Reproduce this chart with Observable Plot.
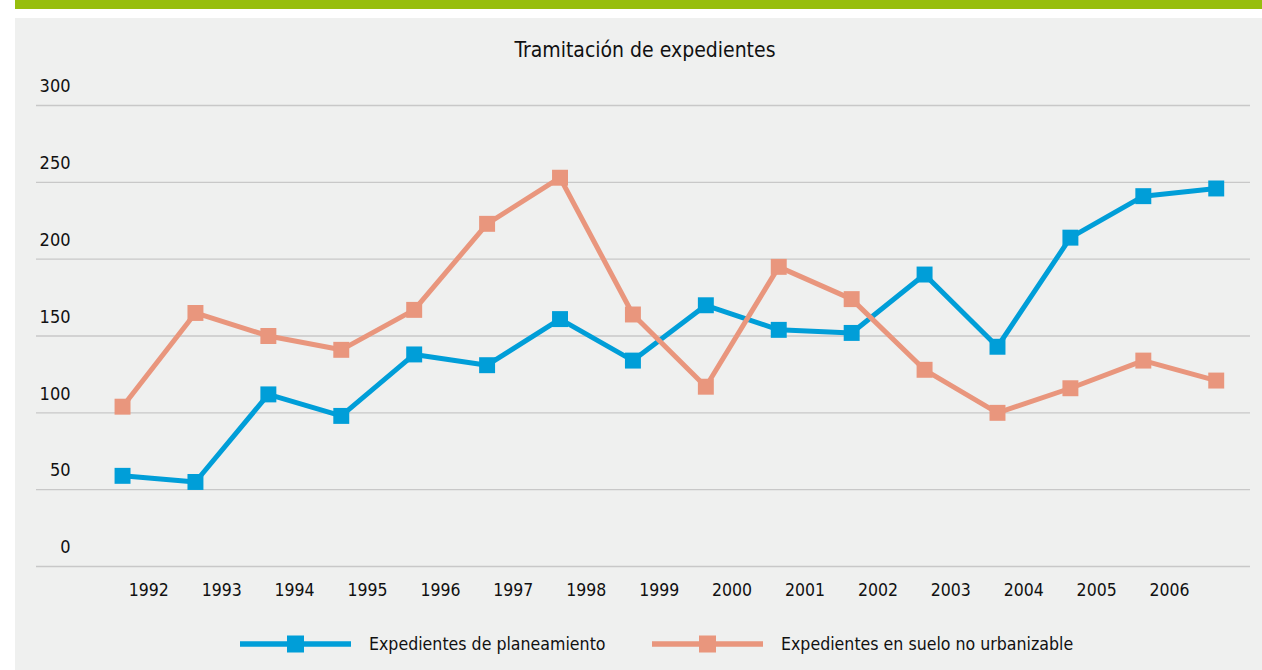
<!DOCTYPE html>
<html>
<head>
<meta charset="utf-8">
<script src="https://cdn.jsdelivr.net/npm/d3@7"></script>
<script src="https://cdn.jsdelivr.net/npm/@observablehq/plot@0.6"></script>
<style>
  html, body { margin: 0; padding: 0; background: #ffffff; }
  body { width: 1262px; height: 670px; position: relative; overflow: hidden;
         font-family: "DejaVu Sans Condensed", "Liberation Sans", sans-serif; color: #111; }
  #topbar { position: absolute; left: 15px; top: 0; width: 1247px; height: 9px; background: #97be0d; }
  #panel { position: absolute; left: 15px; top: 18px; width: 1247px; height: 652px; background: #eff0ef; }
  #title { position: absolute; left: 0; width: 1290px; top: 38px; text-align: center; font-size: 21px; }
  #chart { position: absolute; left: 0; top: 50px; }
  .leg { position: absolute; top: 631px; height: 26px; display: flex; align-items: center; font-size: 17.6px; }
  .leg svg { margin-right: 18px; }
</style>
</head>
<body>
<div id="topbar"></div>
<div id="panel"></div>
<div id="title">Tramitación de expedientes</div>
<div id="chart"></div>
<div class="leg" id="leg1" style="left:240px"></div>
<div class="leg" id="leg2" style="left:652px"></div>
<script>
const years = ["1992","1993","1994","1995","1996","1997","1998","1999","2000","2001","2002","2003","2004","2005","2006"];
const planeamiento = [59, 55, 112, 98, 138, 131, 161, 134, 170, 154, 152, 190, 143, 214, 241, 246];
const sueloNoUrbanizable = [104, 165, 150, 141, 167, 223, 253, 164, 117, 195, 174, 128, 100, 116, 134, 121];
const yTicks = [0, 50, 100, 150, 200, 250, 300];
const seriesNames = ["Expedientes de planeamiento", "Expedientes en suelo no urbanizable"];
const colors = ["#009ed8", "#e9967d"];

const rows = [];
planeamiento.forEach((v, i) => rows.push({i, value: v, serie: seriesNames[0]}));
sueloNoUrbanizable.forEach((v, i) => rows.push({i, value: v, serie: seriesNames[1]}));

const labelOffset = 0.36;
const tickPositions = years.map((y, k) => k + labelOffset);

const chart = Plot.plot({
  width: 1262,
  height: 566,
  marginLeft: 36,
  marginRight: 12,
  marginTop: 55,
  marginBottom: 50,
  style: {background: "transparent", fontFamily: "'DejaVu Sans Condensed', sans-serif", fontSize: "18px", color: "#111"},
  x: {domain: [-1.18, 15.47]},
  y: {domain: [0, 300]},
  color: {domain: seriesNames, range: colors},
  marks: [
    Plot.ruleY(yTicks, {stroke: "#c8c8c8", strokeWidth: 1.3}),
    Plot.axisY(yTicks, {anchor: "left", tickSize: 0, tickPadding: 0, dx: 34, dy: -19, textAnchor: "end", label: null, fontSize: 18}),
    Plot.axisX(tickPositions, {anchor: "bottom", tickSize: 0, tickPadding: 17, label: null, fontSize: 17.5,
      tickFormat: d => years[Math.round(d - labelOffset)]}),
    Plot.line(rows, {x: "i", y: "value", z: "serie", stroke: "serie", strokeWidth: 5}),
    Plot.dot(rows, {x: "i", y: "value", fill: "serie", symbol: "square", r: 9})
  ]
});
document.getElementById("chart").appendChild(chart);

function legendItem(el, name, color) {
  el.innerHTML = `<svg width="111" height="20"><line x1="0" x2="111" y1="10" y2="10" stroke="${color}" stroke-width="5.5"/><rect x="47" y="1.5" width="17" height="17" fill="${color}"/></svg><span>${name}</span>`;
}
legendItem(document.getElementById("leg1"), seriesNames[0], colors[0]);
legendItem(document.getElementById("leg2"), seriesNames[1], colors[1]);
</script>
</body>
</html>
